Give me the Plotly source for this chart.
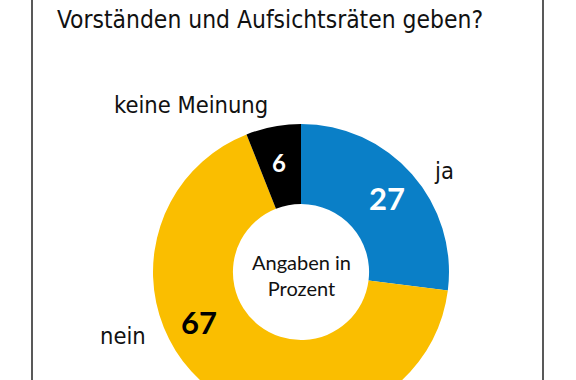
import plotly.graph_objects as go

# Data
categories = ["ja", "nein", "keine Meinung"]
values = [27, 67, 6]
colors = ["#0A7FC7", "#FABE00", "#000000"]
title_line = "Vorständen und Aufsichtsräten geben?"
center_text = "Angaben in<br>Prozent"

W, H = 576, 430

def px(x):
    return x / W

def py(y):
    return 1 - y / H

cx, cy, r = 301, 272, 148

fig = go.Figure(go.Pie(
    labels=categories,
    values=values,
    marker=dict(colors=colors, line=dict(width=0)),
    hole=0.46,
    sort=False,
    direction="clockwise",
    rotation=0,
    textinfo="none",
    hoverinfo="label+value",
    showlegend=False,
    domain=dict(x=[px(cx - r), px(cx + r)], y=[1 - (cy + r) / H, 1 - (cy - r) / H]),
))

narrow = "Liberation Sans Narrow, DejaVu Sans Condensed, Arial Narrow, sans-serif"
humanist = "Lato, Open Sans, sans-serif"

ann = []
ann.append(dict(x=px(55), y=py(20), text=title_line, xanchor="left", yanchor="middle",
                font=dict(family=narrow, size=24.4, color="#111")))
# outside labels
label_pos = {"ja": (444, 171), "nein": (123, 336), "keine Meinung": (191, 105)}
for c in categories:
    x, y = label_pos[c]
    ann.append(dict(x=px(x), y=py(y), text=c, xanchor="center", yanchor="middle",
                    font=dict(family=narrow, size=23.5, color="#111")))
# value labels
val_pos = [(387, 198, "white", 31), (199, 322, "black", 31), (279, 163, "white", 24)]
for v, (x, y, col, s) in zip(values, val_pos):
    ann.append(dict(x=px(x), y=py(y), text="<b>%d</b>" % v, xanchor="center", yanchor="middle",
                    font=dict(family=humanist, size=s, color=col)))
ann.append(dict(x=px(cx), y=py(275), text=center_text, xanchor="center", yanchor="middle",
                font=dict(family=humanist, size=20, color="#111")))

for a in ann:
    a.update(xref="paper", yref="paper", showarrow=False)

shapes = [
    dict(type="line", xref="paper", yref="paper", x0=px(32), x1=px(32), y0=0, y1=1,
         line=dict(color="#222", width=1.5)),
    dict(type="line", xref="paper", yref="paper", x0=px(543), x1=px(543), y0=0, y1=1,
         line=dict(color="#222", width=1.5)),
]

fig.update_layout(
    width=W, height=H,
    margin=dict(l=0, r=0, t=0, b=0),
    paper_bgcolor="white", plot_bgcolor="white",
    annotations=ann, shapes=shapes,
)

fig.write_html("out.html", config={"displayModeBar": False},
               post_script="document.body.style.margin='0';document.documentElement.style.overflow='hidden';document.body.style.overflow='hidden';")
